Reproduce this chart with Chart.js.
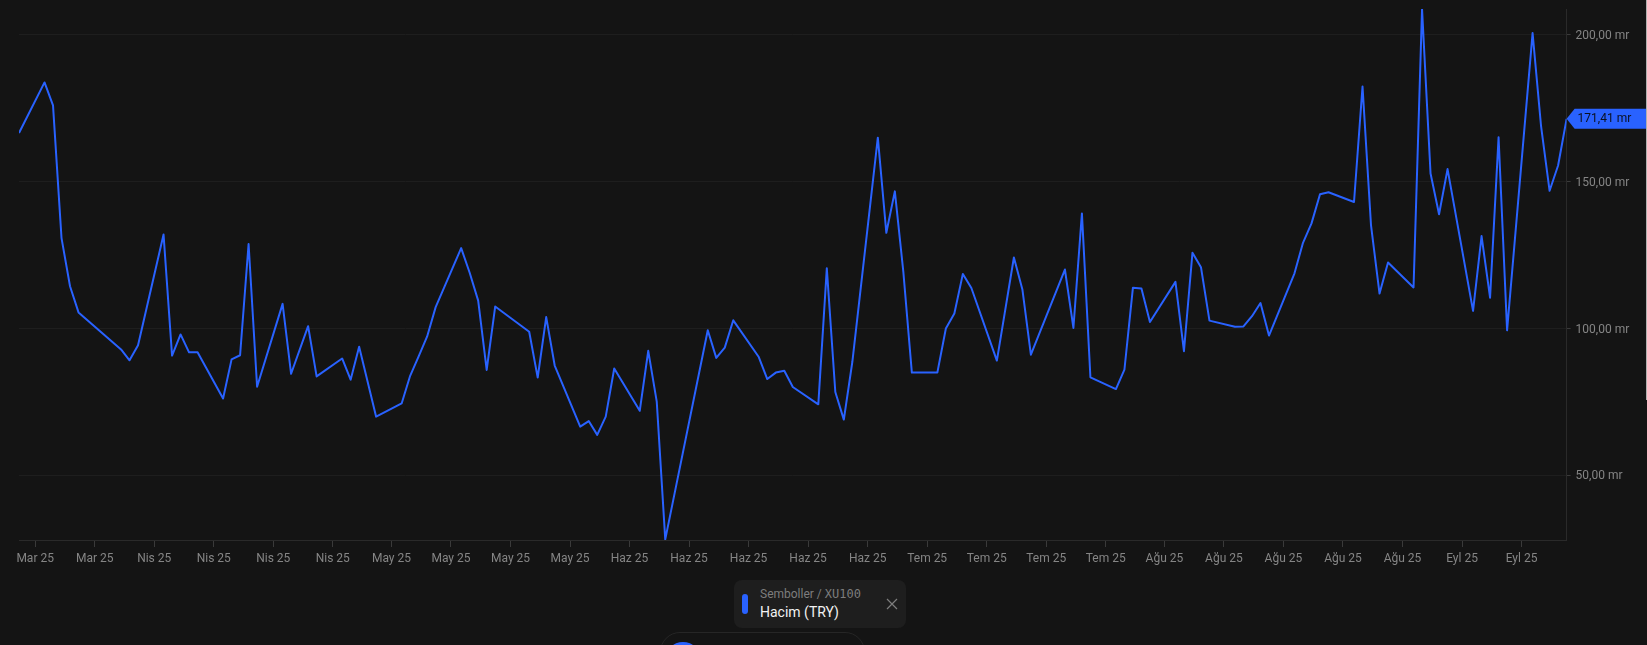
<!DOCTYPE html>
<html>
<head>
<meta charset="utf-8">
<title>XU100 Hacim</title>
<script src="https://cdn.jsdelivr.net/npm/chart.js@4"></script>
<style>
html, body { margin: 0; padding: 0; width: 1647px; height: 645px; overflow: hidden; background: #141414; }
#myChart { position: absolute; left: 0; top: 0; }
#chip { position: absolute; left: 734px; top: 580px; width: 172px; height: 48px; background: #1e1e1e; border-radius: 8px; font-family: Roboto, sans-serif; }
#chip .dot { position: absolute; left: 8px; top: 14px; width: 6px; height: 20px; background: #2962ff; border-radius: 3px; }
#chip .sym { position: absolute; left: 26px; top: 7px; font-size: 12px; line-height: 15px; color: #7d7d7d; white-space: nowrap; }
#chip .sym span { font-family: "DejaVu Sans Mono", monospace; }
#chip .name { position: absolute; left: 26px; top: 23px; font-size: 14px; line-height: 18px; color: #f2f2f2; white-space: nowrap; }
#chip svg { position: absolute; left: 152px; top: 18px; }
#pill { position: absolute; left: 660px; top: 632px; width: 205px; height: 40px; box-sizing: border-box; border: 1px solid #262626; border-radius: 20px; }
#pill .ball { position: absolute; left: 4px; top: 9px; width: 36px; height: 36px; background: #2962ff; border-radius: 50%; }
#scroll { position: absolute; left: 1646px; top: 0; width: 1px; height: 400px; background: #b0b0b0; }
</style>
</head>
<body>
<canvas id="myChart" width="1647" height="645"></canvas>
<div id="chip">
  <div class="dot"></div>
  <div class="sym">Semboller / <span>XU100</span></div>
  <div class="name">Hacim (TRY)</div>
  <svg width="12" height="12" viewBox="0 0 12 12"><path d="M1 1L11 11M11 1L1 11" stroke="#7d7d7d" stroke-width="1.2" fill="none"/></svg>
</div>
<div id="pill"><div class="ball"></div></div>
<div id="scroll"></div>
<script>
// trading day slots on the time axis, gaps are weekends and holidays
var days = [0, 3, 4, 5, 6, 7, 12, 13, 14, 17, 18, 19, 20, 21, 24, 25, 26, 27, 28, 31, 32, 34, 35, 38, 39, 40, 42,
  45, 46, 47, 48, 49, 52, 53, 54, 55, 56, 60, 61, 62, 63, 66, 67, 68, 69, 70, 73, 74, 75, 76,
  81, 82, 83, 84, 87, 88, 89, 90, 91, 94, 95, 96, 97, 98, 101, 102, 103, 104, 105, 108, 109, 110, 111, 112,
  115, 117, 118, 119, 123, 124, 125, 126, 129, 130, 131, 132, 133, 136, 137, 138, 139, 140, 143, 144, 145, 146, 147,
  150, 151, 152, 153, 154, 157, 158, 159, 160, 161, 164, 165, 166, 167, 168, 171, 172, 173, 174, 175, 178, 179, 180, 181, 182];

// volume in billions (mr)
var volumes = [166.6, 183.8, 176, 130.8, 114.4, 105.5, 92.9, 89.2, 94.3, 132, 90.8, 98, 91.9, 91.9, 76.2, 89.5, 90.9, 128.8, 80.2, 108.4, 84.6, 100.8, 83.7, 89.8, 82.6, 93.8, 70,
  74.5, 83.9, 90.5, 97.3, 107.3, 127.4, 119, 109.5, 85.9, 107.5, 98.9, 83.3, 103.9, 87.4, 66.6, 68.5, 63.8, 70, 86.4, 72, 92.4, 75.1, 28.2,
  99.4, 90, 93.5, 102.8, 90.3, 82.8, 85, 85.6, 80.1, 74.2, 120.5, 78.4, 69, 88.6, 165, 132.6, 146.7, 119.3, 85, 85, 100, 105.1, 118.6, 113.8,
  89.1, 124.2, 113.3, 91.1, 120.1, 100.2, 139.2, 83.4, 79.4, 86, 113.9, 113.6, 102.2, 115.9, 92.3, 125.8, 120.9, 102.7, 100.6, 100.7, 104.2, 108.7, 97.6,
  118.8, 129.2, 135.8, 145.7, 146.4, 143.1, 182.4, 135.1, 111.9, 122.5, 114, 208.75, 152.8, 138.9, 154.3, 106, 131.5, 110.5, 165.1, 99.4, 200.6, 168.8, 146.9, 155.5, 171.41];

var tickDays = [1.9, 8.9, 15.9, 22.9, 29.9, 36.9, 43.8, 50.8, 57.8, 64.8, 71.8, 78.8, 85.8, 92.8, 99.8, 106.8, 113.8, 120.8, 127.8, 134.7, 141.7, 148.7, 155.7, 162.7, 169.7, 176.7];
var tickLabels = ["Mar 25", "Mar 25", "Nis 25", "Nis 25", "Nis 25", "Nis 25", "May 25", "May 25", "May 25", "May 25",
  "Haz 25", "Haz 25", "Haz 25", "Haz 25", "Haz 25", "Tem 25", "Tem 25", "Tem 25", "Tem 25",
  "Ağu 25", "Ağu 25", "Ağu 25", "Ağu 25", "Ağu 25", "Eyl 25", "Eyl 25"];
var yTicks = [50, 100, 150, 200];

var lineColor = "#2962ff";
var fontName = "Roboto, sans-serif";

function formatMr(v){
  return v.toFixed(2).replace(".", ",") + " mr";
}

// last value tag on the right axis
var lastValueTag = {
  id: "lastValueTag",
  afterDraw: function(chart){
    var ctx = chart.ctx;
    var last = volumes[volumes.length - 1];
    var y = chart.scales.y.getPixelForValue(last);
    var x = chart.scales.y.left;
    ctx.save();
    ctx.fillStyle = lineColor;
    ctx.beginPath();
    ctx.moveTo(x, y);
    ctx.lineTo(x + 8, y - 10);
    ctx.lineTo(chart.width, y - 10);
    ctx.lineTo(chart.width, y + 10);
    ctx.lineTo(x + 8, y + 10);
    ctx.closePath();
    ctx.fill();
    ctx.fillStyle = "#0b1020";
    ctx.font = "12px " + fontName;
    ctx.textBaseline = "middle";
    ctx.fillText(formatMr(last), x + 11, y);
    ctx.restore();
  }
};

var chart = new Chart(document.getElementById("myChart").getContext("2d"), {
  type: "line",
  data: {
    datasets: [{
      label: "Hacim (TRY)",
      data: days.map(function(d, i){ return { x: d, y: volumes[i] }; }),
      borderColor: lineColor,
      borderWidth: 2,
      borderJoinStyle: "round",
      pointRadius: 0,
      tension: 0,
      fill: false
    }]
  },
  options: {
    responsive: false,
    animation: false,
    layout: { padding: { left: 19, top: 9, right: 0, bottom: 0 } },
    plugins: { legend: { display: false }, tooltip: { enabled: false } },
    scales: {
      x: {
        type: "linear",
        min: 0,
        max: 182,
        afterBuildTicks: function(scale){
          scale.ticks = tickDays.map(function(d){ return { value: d }; });
        },
        afterFit: function(scale){
          scale.height = 105;
          scale.paddingLeft = 0;
          scale.paddingRight = 0;
        },
        grid: { drawOnChartArea: false, tickLength: 7, tickColor: "#3a3a3a", tickWidth: 1 },
        border: { color: "#2a2a2a" },
        ticks: {
          color: "#858585",
          font: { family: fontName, size: 12 },
          autoSkip: false,
          maxRotation: 0,
          padding: 5,
          callback: function(value, index){ return tickLabels[index]; }
        }
      },
      y: {
        position: "right",
        min: 28,
        max: 208.8,
        afterBuildTicks: function(scale){
          scale.ticks = yTicks.map(function(v){ return { value: v }; });
        },
        afterFit: function(scale){
          scale.width = 80.4;
          scale.paddingTop = 0;
          scale.paddingBottom = 0;
        },
        grid: { color: "#1e1e1e", tickLength: 4, tickColor: "#3a3a3a" },
        border: { color: "#2a2a2a" },
        ticks: {
          color: "#858585",
          font: { family: fontName, size: 12 },
          padding: 5,
          labelOffset: 1,
          callback: function(value){ return formatMr(value); }
        }
      }
    }
  },
  plugins: [lastValueTag]
});
</script>
</body>
</html>
